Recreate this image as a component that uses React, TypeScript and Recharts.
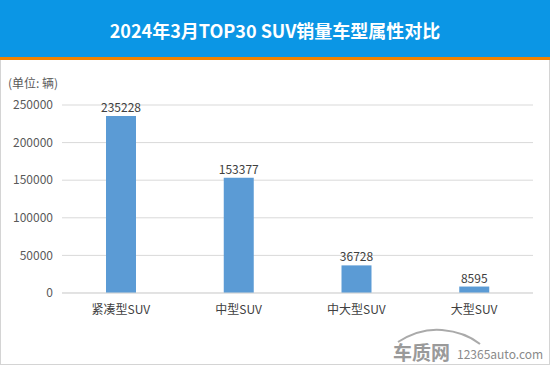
import React from 'react';
import { BarChart, Bar, XAxis, YAxis, CartesianGrid, LabelList } from 'recharts';

const categories = ['紧凑型SUV', '中型SUV', '中大型SUV', '大型SUV'];
const sales = [235228, 153377, 36728, 8595];
const yTicks = [0, 50000, 100000, 150000, 200000, 250000];

const FONT = '"Noto Sans CJK SC", "Noto Sans", sans-serif';

const data = categories.map((name, i) => ({ name, value: sales[i] }));

const App: React.FC = () => {
  return (
    <div
      style={{
        position: 'absolute',
        left: 0,
        top: 0,
        width: 550,
        height: 365,
        background: '#fff',
        fontFamily: FONT,
        overflow: 'hidden',
      }}
    >
      {/* title bar */}
      <div
        style={{
          position: 'absolute',
          left: 0,
          top: 0,
          width: 550,
          height: 57,
          background: '#0b96e5',
          color: '#fff',
          fontWeight: 'bold',
          fontSize: 18,
          lineHeight: '60px',
          textAlign: 'center',
        }}
      >
        2024年3月TOP30 SUV销量车型属性对比
      </div>
      <div style={{ position: 'absolute', left: 0, top: 57, width: 550, height: 3, background: '#f08200' }} />
      {/* frame */}
      <div
        style={{
          position: 'absolute',
          left: 0,
          top: 60,
          width: 548,
          height: 304,
          borderLeft: '1px solid #d4d4d4',
          borderRight: '1px solid #d4d4d4',
          borderBottom: '1px solid #d4d4d4',
        }}
      />
      <div style={{ position: 'absolute', left: 8, top: 74, fontSize: 12, color: '#595959' }}>(单位: 辆)</div>

      <div style={{ position: 'absolute', left: 0, top: 0 }}>
        <BarChart
          width={550}
          height={365}
          data={data}
          margin={{ top: 105, right: 17, bottom: 42, left: 0 }}
        >
          <CartesianGrid vertical={false} stroke="#d9d9d9" />
          <XAxis
            dataKey="name"
            height={30}
            axisLine={{ stroke: '#d9d9d9' }}
            tickLine={false}
            tickSize={0}
            tickMargin={12}
            tick={{ fontSize: 12, fill: '#404040', fontFamily: FONT }}
          />
          <YAxis
            width={62}
            domain={[0, 250000]}
            ticks={yTicks}
            axisLine={false}
            tickLine={false}
            tickSize={0}
            tickMargin={9}
            tick={{ fontSize: 12, fill: '#595959', fontFamily: FONT }}
          />
          <Bar dataKey="value" fill="#5b9bd5" barSize={30} isAnimationActive={false}>
            <LabelList dataKey="value" position="top" offset={4} fill="#404040" fontSize={12} fontFamily={FONT} />
          </Bar>
        </BarChart>
      </div>

      {/* watermark */}
      <svg style={{ position: 'absolute', left: 380, top: 320 }} width={170} height={45}>
        <path d="M18 22 Q40 8 62 10 Q85 12 100 24" fill="none" stroke="#aaa" strokeWidth={2} />
        <text x={13} y={40} fontSize={19} fontWeight="bold" fill="#9a9a9a" fontFamily={FONT}>车质网</text>
        <text x={77} y={39} fontSize={12} fill="#8a8a8a" fontFamily={FONT}>12365auto.com</text>
      </svg>
    </div>
  );
};

export default App;
